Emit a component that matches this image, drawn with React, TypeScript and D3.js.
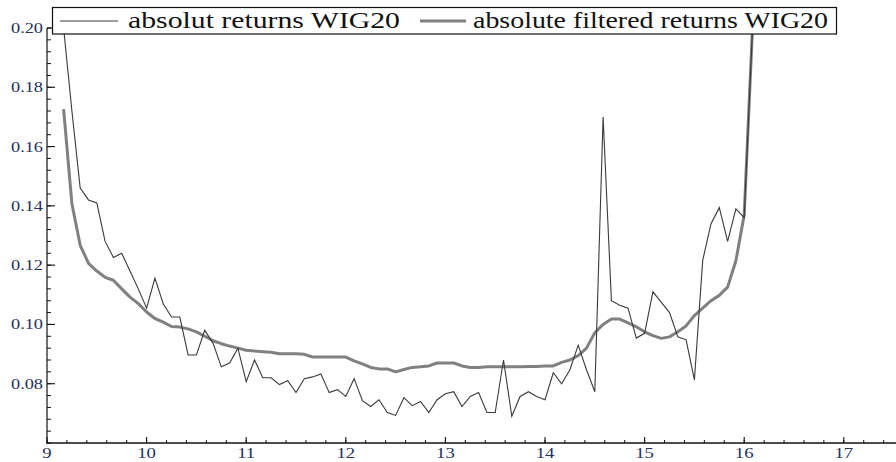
import React from "react";
import * as d3 from "d3";

// 5-minute sampling grid, 9:10 .. 16:05 (hours)
const startHour = 9 + 10 / 60;
const stepHour = 5 / 60;

const absReturns = [
  0.200, 0.172, 0.146, 0.142, 0.141, 0.128, 0.1226, 0.124, 0.118, 0.112,
  0.1055, 0.1156, 0.107, 0.1025, 0.1025, 0.0897, 0.0897, 0.098, 0.0937, 0.0857,
  0.087, 0.092, 0.0807, 0.088, 0.082, 0.082, 0.0797, 0.081, 0.077, 0.0817,
  0.0823, 0.0833, 0.077, 0.078, 0.0757, 0.0817, 0.0743, 0.0723, 0.0746, 0.0703,
  0.0693, 0.0753, 0.0726, 0.074, 0.0703, 0.0746, 0.0766, 0.0773, 0.0723, 0.0757,
  0.077, 0.0703, 0.0703, 0.088, 0.069, 0.0757, 0.0773, 0.0757, 0.0746, 0.0837,
  0.080, 0.0847, 0.093, 0.0847, 0.0773, 0.170, 0.108, 0.1065, 0.1055, 0.0954,
  0.097, 0.111, 0.1075, 0.104, 0.0958, 0.0948, 0.0813, 0.1216, 0.134, 0.1394,
  0.128, 0.139, 0.136, 0.200,
];

const filteredReturns = [
  0.1726, 0.1407, 0.1267, 0.1206, 0.118, 0.1159, 0.1149, 0.112, 0.1092, 0.107,
  0.1042, 0.102, 0.1008, 0.0993, 0.0991, 0.0985, 0.0975, 0.096, 0.0945, 0.0935,
  0.0927, 0.092, 0.0913, 0.091, 0.0908, 0.0906, 0.0901, 0.0901, 0.0901, 0.0899,
  0.089, 0.089, 0.089, 0.089, 0.089, 0.0877, 0.0867, 0.0855, 0.085, 0.085,
  0.084, 0.0848, 0.0855, 0.0857, 0.086, 0.087, 0.087, 0.087, 0.086, 0.0855,
  0.0855, 0.0857, 0.0857, 0.0857, 0.0857, 0.0857, 0.0858, 0.0858, 0.086, 0.086,
  0.0872, 0.088, 0.0895, 0.092, 0.0972, 0.100, 0.1018, 0.1018, 0.1005, 0.0992,
  0.0975, 0.0962, 0.0953, 0.0958, 0.0975, 0.0995, 0.103, 0.1055, 0.108, 0.1098,
  0.1126, 0.1215, 0.137, 0.200,
];

const xTicks = [9, 10, 11, 12, 13, 14, 15, 16, 17];
const yTicks = [0.08, 0.1, 0.12, 0.14, 0.16, 0.18, 0.2];
const legendLabels = ["absolut returns WIG20", "absolute filtered returns WIG20"];

export default function App() {
  const W = 896;
  const H = 462;
  const x = d3.scaleLinear().domain([9, 17.524]).range([47, 896]);
  const y = d3.scaleLinear().domain([0.06, 0.2]).range([443, 28]);

  const line = d3
    .line<number>()
    .x((_, i) => x(startHour + i * stepHour))
    .y((d) => y(d));

  const xMinor = d3.range(0, 43).map((i) => 9 + i * 0.2).filter((v) => v <= 17.52);
  const yMinor = d3.range(0, 36).map((i) => 0.06 + i * 0.004);

  const labelColor = "#25305c";
  const axisColor = "#111";
  const font = "'Liberation Serif', 'Times New Roman', serif";

  return (
    <svg
      width={W}
      height={H}
      viewBox={`0 0 ${W} ${H}`}
      style={{ position: "absolute", left: 0, top: 0, background: "#fff" }}
    >
      <rect x={0} y={0} width={W} height={H} fill="#fff" />
      {/* axes */}
      <line x1={47} x2={47} y1={y(0.2)} y2={443.5} stroke={axisColor} strokeWidth={1.2} />
      <line x1={46.5} x2={W} y1={443} y2={443} stroke={axisColor} strokeWidth={1.4} />
      {yMinor.map((v, i) => (
        <line key={"ym" + i} x1={47} x2={51} y1={y(v)} y2={y(v)} stroke={axisColor} strokeWidth={1} />
      ))}
      {yTicks.map((v) => (
        <g key={"yt" + v}>
          <line x1={47} x2={55} y1={y(v)} y2={y(v)} stroke={axisColor} strokeWidth={1.1} />
          <g transform={`translate(43, ${y(v) + 5}) scale(1.22, 1)`}>
            <text textAnchor="end" fontFamily={font} fontSize={15} fill={labelColor}>
              {v.toFixed(2)}
            </text>
          </g>
        </g>
      ))}
      {xMinor.map((v, i) => (
        <line key={"xm" + i} x1={x(v)} x2={x(v)} y1={443} y2={440} stroke={axisColor} strokeWidth={1} />
      ))}
      {xTicks.map((v) => (
        <g key={"xt" + v}>
          <line x1={x(v)} x2={x(v)} y1={443} y2={437} stroke={axisColor} strokeWidth={1.1} />
          <g transform={`translate(${x(v)}, 458) scale(1.25, 1)`}>
            <text textAnchor="middle" fontFamily={font} fontSize={15} fill={labelColor}>
              {String(v)}
            </text>
          </g>
        </g>
      ))}

      {/* series */}
      <path d={line(filteredReturns) || ""} fill="none" stroke="#808080" strokeWidth={3} strokeLinejoin="round" />
      <path d={line(absReturns) || ""} fill="none" stroke="#3a3a3a" strokeWidth={1.1} strokeLinejoin="miter" />

      {/* legend */}
      <rect x={52.5} y={7.5} width={784} height={26.5} fill="#fff" stroke="#111" strokeWidth={1.2} />
      <line x1={60} x2={118} y1={21} y2={21} stroke="#3a3a3a" strokeWidth={1.1} />
      <text x={128} y={28} fontFamily={font} fontSize={23} fill="#111" textLength={272} lengthAdjust="spacingAndGlyphs">
        {legendLabels[0]}
      </text>
      <line x1={420} x2={466} y1={21} y2={21} stroke="#808080" strokeWidth={3} />
      <text x={473} y={28} fontFamily={font} fontSize={23} fill="#111" textLength={355} lengthAdjust="spacingAndGlyphs">
        {legendLabels[1]}
      </text>
    </svg>
  );
}
